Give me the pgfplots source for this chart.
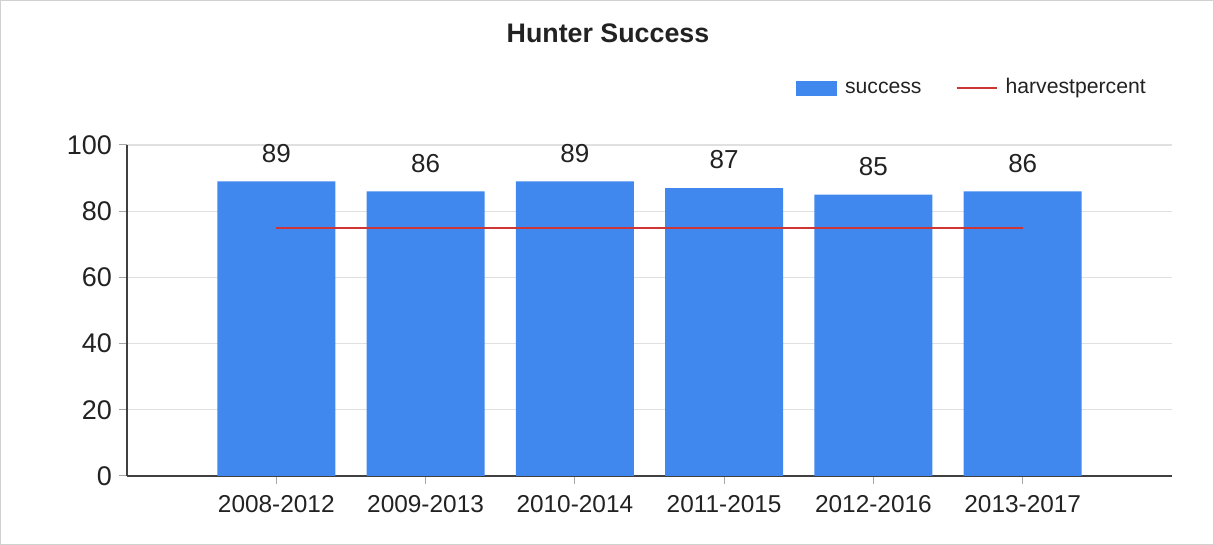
\documentclass[border=0pt]{standalone}
\usepackage{pgfplots}
\pgfplotsset{compat=1.18}
\usepackage{fontspec}
\setmainfont{Liberation Sans}
\definecolor{barblue}{HTML}{4088EE}
\definecolor{linered}{HTML}{D03535}
\definecolor{txt}{HTML}{222222}
\begin{document}
\begin{tikzpicture}[x=1pt,y=1pt]
\path[use as bounding box] (0,0) rectangle (607,272.5);
\draw[black!18,line width=0.6pt] (0.3,0.3) rectangle (606.7,272.2);
\node[font=\bfseries\fontsize{13.4}{16}\selectfont, text=txt] at (304,256) {Hunter Success};
\begin{axis}[
  at={(63.5pt,34.5pt)}, anchor=south west, scale only axis,
  width=522.5pt, height=165.5pt,
  xmin=-1, xmax=6, ymin=0, ymax=100,
  ytick={0,20,...,100},
  xtick={0,...,5},
  xticklabels={2008-2012,2009-2013,2010-2014,2011-2015,2012-2016,2013-2017},
  axis x line*=bottom, axis y line*=left,
  axis line style={black!75, line width=1pt},
  ymajorgrids, grid style={black!12, line width=0.6pt},
  tick style={black!35, line width=0.5pt}, tick align=outside,
  major tick length=4pt,
  clip=false,
  /pgf/number format/assume math mode=true,
  yticklabel style={font=\fontsize{13.5}{16}\selectfont, text=txt},
  xticklabel style={font=\fontsize{12.2}{14}\selectfont, text=txt, yshift=-2pt},
  legend style={at={(0.983,1.172)}, anchor=east, draw=none, fill=none,
    font=\fontsize{10.6}{12}\selectfont, text=txt,
    legend columns=2,
    nodes={inner xsep=4pt, text height=7.8pt, text depth=2.2pt},
    /tikz/every even column/.append style={column sep=13pt},
    inner sep=0pt},
]
\addplot[ybar, bar width=59pt, fill=barblue, draw=none,
  nodes near coords,
  nodes near coords style={font=\fontsize{13}{15}\selectfont, text=txt, yshift=6pt},
  legend image code/.code={\fill[barblue] (0pt,-3.75pt) rectangle (20.5pt,3.75pt);}]
  coordinates {(0,89) (1,86) (2,89) (3,87) (4,85) (5,86)};
\addlegendentry{success}
\addplot[linered, line width=1pt, mark=none,
  legend image code/.code={\draw[linered, line width=1pt] (0pt,0pt) -- (20pt,0pt);}]
  coordinates {(0,75) (1,75) (2,75) (3,75) (4,75) (5,75)};
\addlegendentry{harvestpercent}
\end{axis}
\end{tikzpicture}
\end{document}
